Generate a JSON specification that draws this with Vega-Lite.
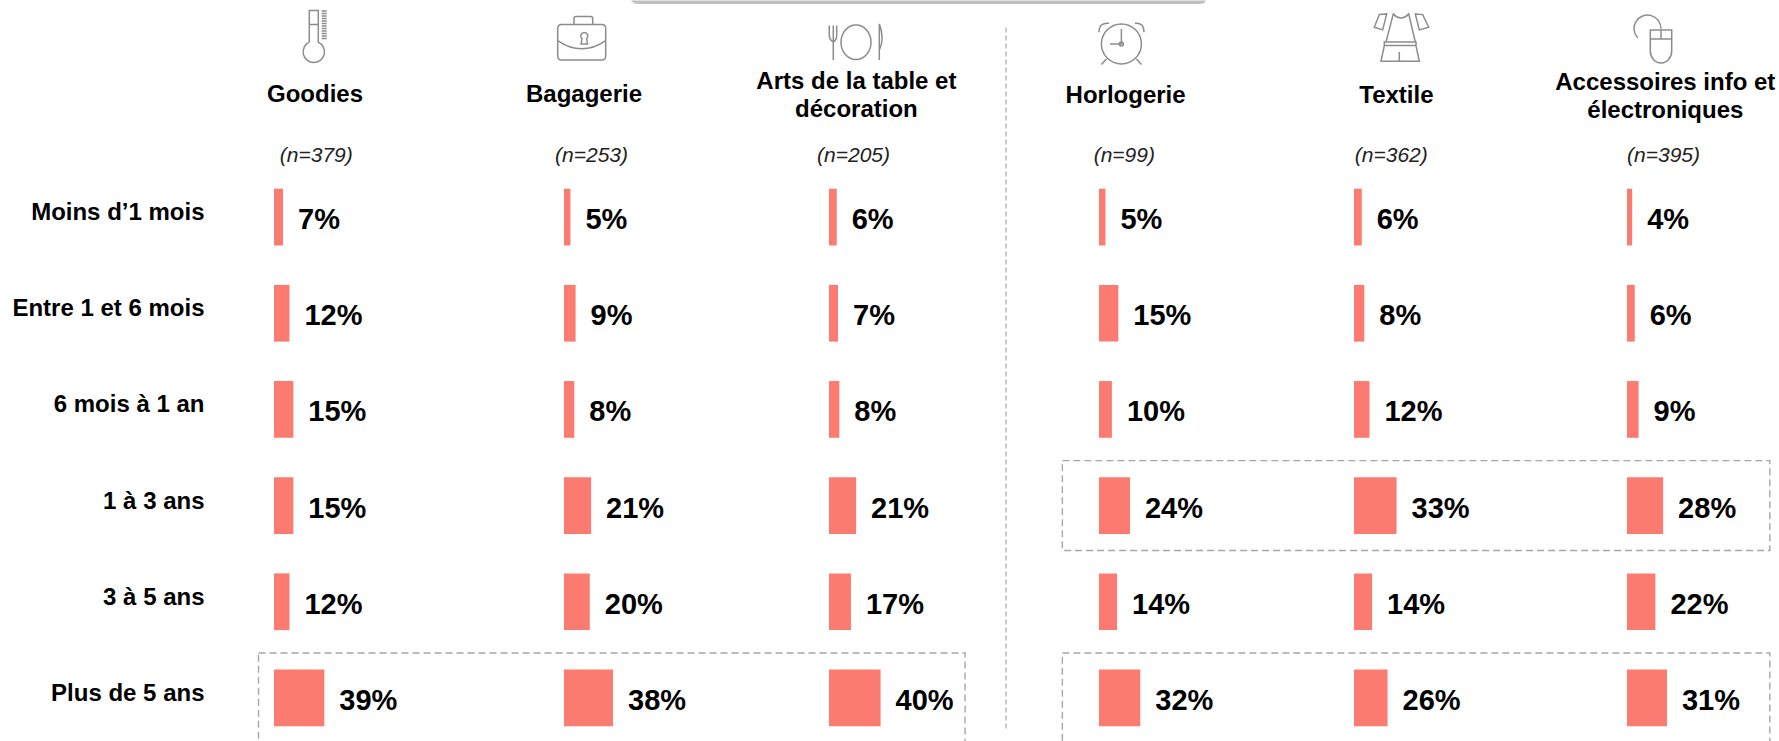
{
"$schema":"https://vega.github.io/schema/vega-lite/v6.json",
"padding":{"left":11,"top":0,"right":0,"bottom":0},
"spacing":0,
"bounds":"flush",
"background":"white",
"config":{"view":{"stroke":null},"font":"Liberation Sans",
"axisX":{"domain":false,"ticks":false,"labels":false,"grid":false,"titleFont":"Liberation Sans","titleFontSize":21,"titleFontStyle":"italic","titleFontWeight":"normal","titleColor":"#222222","titleAlign":"center","titleBaseline":"alphabetic","titleY":-7.4},
"title":{"font":"Liberation Sans","fontSize":24,"fontWeight":"bold","color":"#000000","anchor":"start","frame":"group","lineHeight":28}},
"hconcat":[
{"width":290,"height":577,
"title":{"text":"Goodies","align":"center","dx":41,"offset":-106.9},
"resolve":{"axis":{"x":"independent","y":"independent"}},
"layer":[
{"data":{"values":[
{"groupe":"Goodies","duree":"Moins d’1 mois","pct":0.07},{"groupe":"Goodies","duree":"Entre 1 et 6 mois","pct":0.12},{"groupe":"Goodies","duree":"6 mois à 1 an","pct":0.15},{"groupe":"Goodies","duree":"1 à 3 ans","pct":0.15},{"groupe":"Goodies","duree":"3 à 5 ans","pct":0.12},{"groupe":"Goodies","duree":"Plus de 5 ans","pct":0.39}]},
"encoding":{"y":{"field":"duree","type":"nominal","title":null,"sort":null,"scale":{"domain":["Moins d’1 mois","Entre 1 et 6 mois","6 mois à 1 an","1 à 3 ans","3 à 5 ans","Plus de 5 ans"],"paddingInner":0,"paddingOuter":0},"axis":{"domain":false,"ticks":false,"labelFont":"Liberation Sans","labelFontSize":24,"labelFontWeight":"bold","labelColor":"#000000","labelPadding":70,"labelOffset":-4,"labelLimit":400}},
"x":{"field":"pct","type":"quantitative","scale":{"domain":[0,1],"range":[0,129]},"axis":{"orient":"top","title":"(n=379)","titleX":41.8}}},
"layer":[
{"mark":{"type":"bar","color":"#FB7B70","height":{"band":0.59}}},
{"mark":{"type":"text","align":"left","baseline":"middle","dx":15,"dy":3,"fontSize":29,"fontWeight":"bold","color":"#000000"},"encoding":{"text":{"field":"pct","type":"quantitative","format":".0%"}}}
]},
{"data":{"values":[{"duree":"Plus de 5 ans"}]},"mark":{"type":"bar","height":{"band":0.935},"fillOpacity":0,"stroke":"#A6A6A6","strokeWidth":1.4,"strokeDash":[7,4]},"encoding":{"x":{"datum":-0.12,"axis":null},"x2":{"datum":5.357},"y":{"field":"duree","type":"nominal","axis":null}}},
{"data":{"values":[{"icone":"separateur"}]},"mark":{"type":"point","shape":"M732,-189.5 L732,513.5","size":4,"filled":false,"color":"#BFBFBF","strokeWidth":1.6,"strokeDash":[5,3],"opacity":1},"encoding":{"x":{"datum":0,"axis":null},"y":{"datum":"Moins d’1 mois","axis":null}}},
{"data":{"values":[{"icone":"bandeau"}]},"mark":{"type":"point","shape":"M357,-216.5 L932,-216.5 Q930,-213 925,-213 L365,-213 Q360,-213 357,-216.5 Z","size":4,"filled":true,"color":"#BFBFBF","opacity":1},"encoding":{"x":{"datum":0,"axis":null},"y":{"datum":"Moins d’1 mois","axis":null}}},
{"data":{"values":[{"icone":"thermometre"}]},"mark":{"type":"point","shape":"M35.3,-175 L35.3,-206.5 L44.3,-206.5 L44.3,-175 A10.7,10.7 0 1 1 35.3,-175 M35.3,-192.5 L44.3,-192.5 M47.7,-206 L52.7,-206 M47.7,-203.5 L52.7,-203.5 M47.7,-201 L52.7,-201 M47.7,-198.5 L52.7,-198.5 M47.7,-196 L52.7,-196 M47.7,-193.5 L52.7,-193.5 M47.7,-191 L52.7,-191 M47.7,-188.5 L52.7,-188.5 M47.7,-186 L52.7,-186 M47.7,-183.5 L52.7,-183.5 M47.7,-181 L52.7,-181 M47.7,-178.5 L52.7,-178.5","size":4,"filled":false,"color":"#8C8C8C","strokeWidth":1.5,"opacity":1},"encoding":{"x":{"datum":0,"axis":null},"y":{"datum":"Moins d’1 mois","axis":null}}}
]},
{"width":265,"height":577,
"title":{"text":"Bagagerie","align":"center","dx":20,"offset":-93.3},
"resolve":{"axis":{"x":"independent","y":"independent"}},
"layer":[
{"data":{"values":[
{"groupe":"Bagagerie","duree":"Moins d’1 mois","pct":0.05},{"groupe":"Bagagerie","duree":"Entre 1 et 6 mois","pct":0.09},{"groupe":"Bagagerie","duree":"6 mois à 1 an","pct":0.08},{"groupe":"Bagagerie","duree":"1 à 3 ans","pct":0.21},{"groupe":"Bagagerie","duree":"3 à 5 ans","pct":0.20},{"groupe":"Bagagerie","duree":"Plus de 5 ans","pct":0.38}]},
"encoding":{"y":{"field":"duree","type":"nominal","title":null,"sort":null,"scale":{"domain":["Moins d’1 mois","Entre 1 et 6 mois","6 mois à 1 an","1 à 3 ans","3 à 5 ans","Plus de 5 ans"],"paddingInner":0,"paddingOuter":0},"axis":null},
"x":{"field":"pct","type":"quantitative","scale":{"domain":[0,1],"range":[0,129]},"axis":{"orient":"top","title":"(n=253)","titleX":27}}},
"layer":[
{"mark":{"type":"bar","color":"#FB7B70","height":{"band":0.59}}},
{"mark":{"type":"text","align":"left","baseline":"middle","dx":15,"dy":3,"fontSize":29,"fontWeight":"bold","color":"#000000"},"encoding":{"text":{"field":"pct","type":"quantitative","format":".0%"}}}
]},
{"data":{"values":[{"icone":"mallette"}]},"mark":{"type":"point","shape":"M-2.3,-192.5 L37.7,-192.5 Q41.7,-192.5 41.7,-188.5 L41.7,-161.2 Q41.7,-157.2 37.7,-157.2 L-2.3,-157.2 Q-6.3,-157.2 -6.3,-161.2 L-6.3,-188.5 Q-6.3,-192.5 -2.3,-192.5 Z M10,-192.5 L10,-198.5 Q10,-200.5 12,-200.5 L26.7,-200.5 Q28.7,-200.5 28.7,-198.5 L28.7,-192.5 M-6.3,-176.5 Q17.7,-160 41.7,-176.5 M18,-178.5 A3.5,3.5 0 1 1 22.6,-178.5 L23.5,-173.2 L17.1,-173.2 Z","size":4,"filled":false,"color":"#8C8C8C","strokeWidth":1.5,"opacity":1},"encoding":{"x":{"datum":0,"axis":null},"y":{"datum":"Moins d’1 mois","axis":null}}}
]},
{"width":270,"height":577,
"title":{"text":["Arts de la table et","décoration"],"align":"center","dx":27.4,"offset":-101.6},
"resolve":{"axis":{"x":"independent","y":"independent"}},
"layer":[
{"data":{"values":[
{"groupe":"Arts de la table et décoration","duree":"Moins d’1 mois","pct":0.06},{"groupe":"Arts de la table et décoration","duree":"Entre 1 et 6 mois","pct":0.07},{"groupe":"Arts de la table et décoration","duree":"6 mois à 1 an","pct":0.08},{"groupe":"Arts de la table et décoration","duree":"1 à 3 ans","pct":0.21},{"groupe":"Arts de la table et décoration","duree":"3 à 5 ans","pct":0.17},{"groupe":"Arts de la table et décoration","duree":"Plus de 5 ans","pct":0.40}]},
"encoding":{"y":{"field":"duree","type":"nominal","title":null,"sort":null,"scale":{"domain":["Moins d’1 mois","Entre 1 et 6 mois","6 mois à 1 an","1 à 3 ans","3 à 5 ans","Plus de 5 ans"],"paddingInner":0,"paddingOuter":0},"axis":null},
"x":{"field":"pct","type":"quantitative","scale":{"domain":[0,1],"range":[0,129]},"axis":{"orient":"top","title":"(n=205)","titleX":24}}},
"layer":[
{"mark":{"type":"bar","color":"#FB7B70","height":{"band":0.59}}},
{"mark":{"type":"text","align":"left","baseline":"middle","dx":15,"dy":3,"fontSize":29,"fontWeight":"bold","color":"#000000"},"encoding":{"text":{"field":"pct","type":"quantitative","format":".0%"}}}
]},
{"data":{"values":[{"icone":"couvert"}]},"mark":{"type":"point","shape":"M0.3,-191.5 L0.3,-182 Q0.3,-177 4.3,-175 L4.3,-157.2 M4.3,-191.5 L4.3,-175 M7.7,-191.5 L7.7,-182 Q7.7,-177 4.3,-175 M12,-174.8 A15,17.3 0 1 1 42,-174.8 A15,17.3 0 1 1 12,-174.8 Z M50.3,-193.2 L50.3,-157.2 M50.3,-193.2 Q56,-178 50.3,-167","size":4,"filled":false,"color":"#8C8C8C","strokeWidth":1.5,"opacity":1},"encoding":{"x":{"datum":0,"axis":null},"y":{"datum":"Moins d’1 mois","axis":null}}}
]},
{"width":255,"height":577,
"title":{"text":"Horlogerie","align":"center","dx":26.6,"offset":-87.6},
"resolve":{"axis":{"x":"independent","y":"independent"}},
"layer":[
{"data":{"values":[
{"groupe":"Horlogerie","duree":"Moins d’1 mois","pct":0.05},{"groupe":"Horlogerie","duree":"Entre 1 et 6 mois","pct":0.15},{"groupe":"Horlogerie","duree":"6 mois à 1 an","pct":0.10},{"groupe":"Horlogerie","duree":"1 à 3 ans","pct":0.24},{"groupe":"Horlogerie","duree":"3 à 5 ans","pct":0.14},{"groupe":"Horlogerie","duree":"Plus de 5 ans","pct":0.32}]},
"encoding":{"y":{"field":"duree","type":"nominal","title":null,"sort":null,"scale":{"domain":["Moins d’1 mois","Entre 1 et 6 mois","6 mois à 1 an","1 à 3 ans","3 à 5 ans","Plus de 5 ans"],"paddingInner":0,"paddingOuter":0},"axis":null},
"x":{"field":"pct","type":"quantitative","scale":{"domain":[0,1],"range":[0,129]},"axis":{"orient":"top","title":"(n=99)","titleX":24.8}}},
"layer":[
{"mark":{"type":"bar","color":"#FB7B70","height":{"band":0.59}}},
{"mark":{"type":"text","align":"left","baseline":"middle","dx":15,"dy":3,"fontSize":29,"fontWeight":"bold","color":"#000000"},"encoding":{"text":{"field":"pct","type":"quantitative","format":".0%"}}}
]},
{"data":{"values":[{"duree":"1 à 3 ans"},{"duree":"Plus de 5 ans"}]},"mark":{"type":"bar","height":{"band":0.935},"fillOpacity":0,"stroke":"#A6A6A6","strokeWidth":1.4,"strokeDash":[7,4]},"encoding":{"x":{"datum":-0.284,"axis":null},"x2":{"datum":5.2},"y":{"field":"duree","type":"nominal","axis":null}}},
{"data":{"values":[{"icone":"reveil"}]},"mark":{"type":"point","shape":"M2.4,-173.2 A20,20 0 1 1 42.4,-173.2 A20,20 0 1 1 2.4,-173.2 Z M22.4,-188.2 L22.4,-173.2 L11,-173.2 M20.4,-173.2 A2,2 0 1 1 24.4,-173.2 A2,2 0 1 1 20.4,-173.2 Z M0,-184.8 Q0,-194.8 10,-193.8 M36,-193.8 Q45,-194.8 45,-184.8 M7.4,-158.2 L2.4,-152.5 M37.4,-158.2 L42.4,-152.5","size":4,"filled":false,"color":"#8C8C8C","strokeWidth":1.5,"opacity":1},"encoding":{"x":{"datum":0,"axis":null},"y":{"datum":"Moins d’1 mois","axis":null}}}
]},
{"width":273,"height":577,
"title":{"text":"Textile","align":"center","dx":42.4,"offset":-96.7},
"resolve":{"axis":{"x":"independent","y":"independent"}},
"layer":[
{"data":{"values":[
{"groupe":"Textile","duree":"Moins d’1 mois","pct":0.06},{"groupe":"Textile","duree":"Entre 1 et 6 mois","pct":0.08},{"groupe":"Textile","duree":"6 mois à 1 an","pct":0.12},{"groupe":"Textile","duree":"1 à 3 ans","pct":0.33},{"groupe":"Textile","duree":"3 à 5 ans","pct":0.14},{"groupe":"Textile","duree":"Plus de 5 ans","pct":0.26}]},
"encoding":{"y":{"field":"duree","type":"nominal","title":null,"sort":null,"scale":{"domain":["Moins d’1 mois","Entre 1 et 6 mois","6 mois à 1 an","1 à 3 ans","3 à 5 ans","Plus de 5 ans"],"paddingInner":0,"paddingOuter":0},"axis":null},
"x":{"field":"pct","type":"quantitative","scale":{"domain":[0,1],"range":[0,129]},"axis":{"orient":"top","title":"(n=362)","titleX":36.8}}},
"layer":[
{"mark":{"type":"bar","color":"#FB7B70","height":{"band":0.59}}},
{"mark":{"type":"text","align":"left","baseline":"middle","dx":15,"dy":3,"fontSize":29,"fontWeight":"bold","color":"#000000"},"encoding":{"text":{"field":"pct","type":"quantitative","format":".0%"}}}
]},
{"data":{"values":[{"icone":"vetement"}]},"mark":{"type":"point","shape":"M39.3,-203.2 Q47,-195 54.7,-203.2 L61.3,-175 L32,-175 Z M30.3,-175 L62,-175 L62,-171.5 L30.3,-171.5 Z M25.3,-202.5 L32.7,-203.2 L28.7,-187.2 L20.3,-189.8 Z M61.3,-203.2 L68.7,-202.5 L74.7,-189.8 L65.3,-187.2 Z M30.3,-171.5 L27,-155.8 L65.3,-155.8 L62,-171.5 M45.3,-165 L45.3,-155.8","size":4,"filled":false,"color":"#8C8C8C","strokeWidth":1.5,"opacity":1},"encoding":{"x":{"datum":0,"axis":null},"y":{"datum":"Moins d’1 mois","axis":null}}}
]},
{"width":142,"height":577,
"title":{"text":["Accessoires info et","électroniques"],"align":"center","dx":38.3,"offset":-110.7},
"resolve":{"axis":{"x":"independent","y":"independent"}},
"layer":[
{"data":{"values":[
{"groupe":"Accessoires info et électroniques","duree":"Moins d’1 mois","pct":0.04},{"groupe":"Accessoires info et électroniques","duree":"Entre 1 et 6 mois","pct":0.06},{"groupe":"Accessoires info et électroniques","duree":"6 mois à 1 an","pct":0.09},{"groupe":"Accessoires info et électroniques","duree":"1 à 3 ans","pct":0.28},{"groupe":"Accessoires info et électroniques","duree":"3 à 5 ans","pct":0.22},{"groupe":"Accessoires info et électroniques","duree":"Plus de 5 ans","pct":0.31}]},
"encoding":{"y":{"field":"duree","type":"nominal","title":null,"sort":null,"scale":{"domain":["Moins d’1 mois","Entre 1 et 6 mois","6 mois à 1 an","1 à 3 ans","3 à 5 ans","Plus de 5 ans"],"paddingInner":0,"paddingOuter":0},"axis":null},
"x":{"field":"pct","type":"quantitative","scale":{"domain":[0,1],"range":[0,129]},"axis":{"orient":"top","title":"(n=395)","titleX":36}}},
"layer":[
{"mark":{"type":"bar","color":"#FB7B70","height":{"band":0.59}}},
{"mark":{"type":"text","align":"left","baseline":"middle","dx":15,"dy":3,"fontSize":29,"fontWeight":"bold","color":"#000000"},"encoding":{"text":{"field":"pct","type":"quantitative","format":".0%"}}}
]},
{"data":{"values":[{"icone":"souris"}]},"mark":{"type":"point","shape":"M23.3,-187.2 L44.7,-187.2 L44.7,-166 A10.7,12 0 0 1 23.3,-166 Z M23.3,-178.2 L44.7,-178.2 M34,-187.2 L34,-178.2 M10.7,-179.2 A13.5,13.5 0 1 1 34,-188.2","size":4,"filled":false,"color":"#8C8C8C","strokeWidth":1.5,"opacity":1},"encoding":{"x":{"datum":0,"axis":null},"y":{"datum":"Moins d’1 mois","axis":null}}}
]}
]
}
